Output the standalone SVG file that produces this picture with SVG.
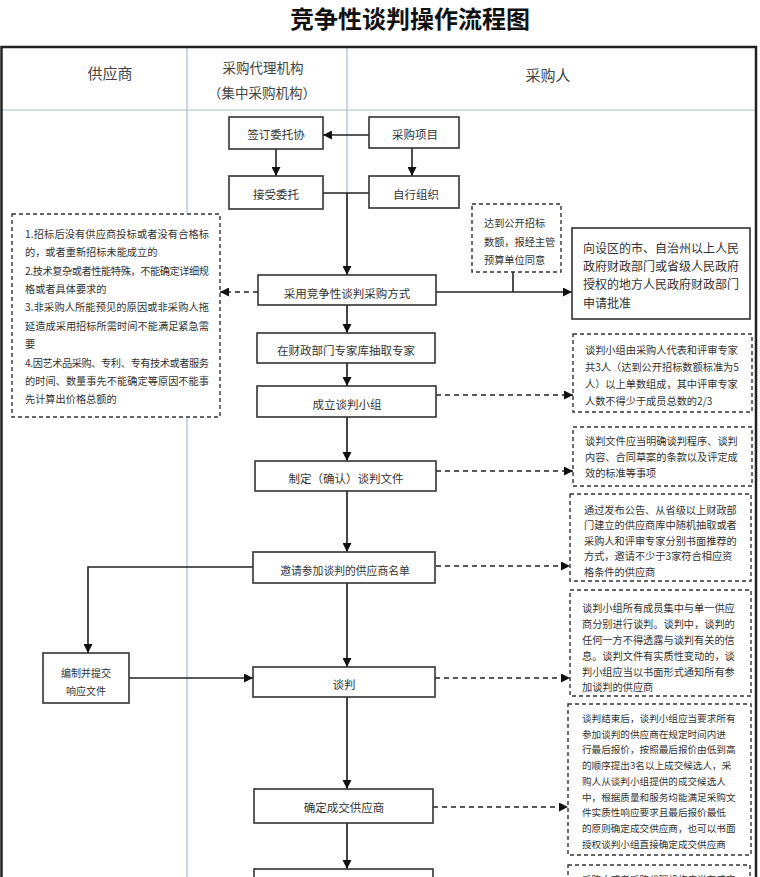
<svg xmlns="http://www.w3.org/2000/svg" width="760" height="877" viewBox="0 0 760 877">
<style>
text{font-family:"Noto Sans CJK SC","Noto Sans",sans-serif;fill:#333;}
.title{font-size:24px;font-weight:bold;fill:#111;}
.lane{font-size:15px;fill:#444;}
.lane2{font-size:13.5px;fill:#444;}
.box{fill:#fff;stroke:#333;stroke-width:1.6;}
.dbox{fill:#fff;stroke:#333;stroke-width:1.4;stroke-dasharray:4 3;}
.bt{font-size:11.5px;text-anchor:middle;dominant-baseline:central;}
.nt{font-size:10.2px;dominant-baseline:central;}
.mt{font-size:12px;dominant-baseline:central;}
.ln{fill:none;stroke:#222;stroke-width:1.6;}
.dl{fill:none;stroke:#222;stroke-width:1.6;stroke-dasharray:5 4;}
.lanel{stroke:#a9bdd0;stroke-width:1.2;fill:none;}
</style>
<defs>
<marker id="ah" viewBox="0 0 10 10" markerWidth="9" markerHeight="9" refX="10" refY="5" orient="auto" markerUnits="userSpaceOnUse">
<path d="M0,0 L10,5 L0,10 z" fill="#111"/>
</marker>
</defs>
<rect width="760" height="877" fill="#fff"/>
<text class="title" x="410" y="28" text-anchor="middle">竞争性谈判操作流程图</text>

<g id="frame">
<line class="lanel" x1="0" y1="110" x2="756" y2="110"/>
<line class="lanel" x1="187" y1="47" x2="187" y2="877"/>
<line class="lanel" x1="347" y1="47" x2="347" y2="877"/>
<path d="M1.5,877 L1.5,47 L756,47 L756,877" fill="none" stroke="#222" stroke-width="2.5"/>
<text class="lane" x="110" y="79" text-anchor="middle">供应商</text>
<text class="lane2" x="263" y="73" text-anchor="middle">采购代理机构</text>
<text class="lane2" x="262" y="98" text-anchor="middle">（集中采购机构）</text>
<text class="lane" x="548" y="81" text-anchor="middle">采购人</text>
</g>

<g id="connectors">
<line class="ln" x1="369" y1="135" x2="323" y2="135" marker-end="url(#ah)"/>
<line class="ln" x1="276" y1="149" x2="276" y2="176" marker-end="url(#ah)"/>
<line class="ln" x1="412" y1="148" x2="412" y2="176" marker-end="url(#ah)"/>
<line class="ln" x1="323" y1="193" x2="369" y2="193"/>
<line class="ln" x1="347" y1="193" x2="347" y2="275" marker-end="url(#ah)"/>
<line class="dl" x1="258" y1="292" x2="220" y2="292" marker-end="url(#ah)"/>
<line class="ln" x1="436" y1="292" x2="572" y2="292" marker-end="url(#ah)"/>
<line class="ln" x1="513" y1="272" x2="513" y2="292"/>
<line class="ln" x1="347" y1="305" x2="347" y2="333" marker-end="url(#ah)"/>
<line class="ln" x1="347" y1="363" x2="347" y2="386" marker-end="url(#ah)"/>
<line class="ln" x1="347" y1="417" x2="347" y2="461" marker-end="url(#ah)"/>
<line class="ln" x1="347" y1="491" x2="347" y2="552" marker-end="url(#ah)"/>
<line class="ln" x1="347" y1="583" x2="347" y2="667" marker-end="url(#ah)"/>
<line class="ln" x1="347" y1="697" x2="347" y2="789" marker-end="url(#ah)"/>
<line class="ln" x1="347" y1="823" x2="347" y2="869" marker-end="url(#ah)"/>
<polyline class="ln" points="253,567 88,567 88,653" marker-end="url(#ah)"/>
<line class="ln" x1="129" y1="678" x2="253" y2="678" marker-end="url(#ah)"/>
<line class="dl" x1="436" y1="395" x2="573" y2="395" marker-end="url(#ah)"/>
<line class="dl" x1="436" y1="471" x2="573" y2="471" marker-end="url(#ah)"/>
<line class="dl" x1="436" y1="566" x2="570" y2="566" marker-end="url(#ah)"/>
<line class="dl" x1="435" y1="678" x2="570" y2="678" marker-end="url(#ah)"/>
<line class="dl" x1="433" y1="807" x2="568" y2="807" marker-end="url(#ah)"/>
</g>

<g id="n-qianding"><rect class="box" x="229" y="117" width="94" height="32"/><text class="bt" x="276" y="134">签订委托协</text></g>
<g id="n-xiangmu"><rect class="box" x="369" y="117" width="90" height="31"/><text class="bt" x="415" y="134">采购项目</text></g>
<g id="n-jieshou"><rect class="box" x="229" y="176" width="94" height="33"/><text class="bt" x="276" y="194">接受委托</text></g>
<g id="n-zixing"><rect class="box" x="369" y="176" width="90" height="32"/><text class="bt" x="416" y="194">自行组织</text></g>

<g id="n-conditions">
<rect class="dbox" x="12" y="214" width="208" height="203"/>
<text class="nt" x="25" y="233" textLength="184" lengthAdjust="spacing">1.招标后没有供应商投标或者没有合格标</text>
<text class="nt" x="25" y="251">的，或者重新招标未能成立的</text>
<text class="nt" x="25" y="270" textLength="184" lengthAdjust="spacing">2.技术复杂或者性能特殊，不能确定详细规</text>
<text class="nt" x="25" y="288">格或者具体要求的</text>
<text class="nt" x="25" y="306" textLength="184" lengthAdjust="spacing">3.非采购人所能预见的原因或非采购人拖</text>
<text class="nt" x="25" y="325" textLength="184" lengthAdjust="spacing">延造成采用招标所需时间不能满足紧急需</text>
<text class="nt" x="25" y="343">要</text>
<text class="nt" x="25" y="362" textLength="184" lengthAdjust="spacing">4.因艺术品采购、专利、专有技术或者服务</text>
<text class="nt" x="25" y="380" textLength="184" lengthAdjust="spacing">的时间、数量事先不能确定等原因不能事</text>
<text class="nt" x="25" y="398">先计算出价格总额的</text>
</g>

<g id="n-daodao">
<rect class="dbox" x="472" y="204" width="89" height="68"/>
<text class="nt" x="484" y="222">达到公开招标</text>
<text class="nt" x="484" y="241">数额，报经主管</text>
<text class="nt" x="484" y="259">预算单位同意</text>
</g>

<g id="n-shenpi">
<rect class="box" x="572" y="228" width="178" height="91"/>
<text class="mt" x="583" y="247">向设区的市、自治州以上人民</text>
<text class="mt" x="583" y="265">政府财政部门或省级人民政府</text>
<text class="mt" x="583" y="283">授权的地方人民政府财政部门</text>
<text class="mt" x="583" y="302">申请批准</text>
</g>

<g id="n-caiyong"><rect class="box" x="258" y="275" width="178" height="30"/><text class="bt" x="347" y="293">采用竞争性谈判采购方式</text></g>
<g id="n-chouqu"><rect class="box" x="257" y="333" width="178" height="30"/><text class="bt" x="346" y="350">在财政部门专家库抽取专家</text></g>
<g id="n-chengli"><rect class="box" x="257" y="386" width="179" height="31"/><text class="bt" x="347" y="404">成立谈判小组</text></g>
<g id="n-zhiding"><rect class="box" x="255" y="461" width="181" height="30"/><text class="bt" x="346" y="478">制定（确认）谈判文件</text></g>
<g id="n-yaoqing"><rect class="box" x="253" y="552" width="182" height="31"/><text class="bt" x="345" y="570" style="font-size:10.8px">邀请参加谈判的供应商名单</text></g>
<g id="n-bianzhi"><rect class="box" x="43" y="653" width="86" height="50"/><text class="bt" x="86" y="672" style="font-size:10px">编制并提交</text><text class="bt" x="86" y="690" style="font-size:10px">响应文件</text></g>
<g id="n-tanpan"><rect class="box" x="253" y="667" width="182" height="30"/><text class="bt" x="344" y="684">谈判</text></g>
<g id="n-queding"><rect class="box" x="254" y="789" width="179" height="34"/><text class="bt" x="344" y="807">确定成交供应商</text></g>
<g id="n-next"><rect class="box" x="254" y="869" width="179" height="30"/></g>

<g id="n-zucheng">
<rect class="dbox" x="573" y="334" width="179" height="78"/>
<text class="nt" x="585" y="349">谈判小组由采购人代表和评审专家</text>
<text class="nt" x="585" y="366">共3人（达到公开招标数额标准为5</text>
<text class="nt" x="585" y="383">人）以上单数组成，其中评审专家</text>
<text class="nt" x="585" y="400">人数不得少于成员总数的2/3</text>
</g>

<g id="n-wenjian">
<rect class="dbox" x="573" y="427" width="179" height="59"/>
<text class="nt" x="585" y="440">谈判文件应当明确谈判程序、谈判</text>
<text class="nt" x="585" y="456">内容、合同草案的条款以及评定成</text>
<text class="nt" x="585" y="472">效的标准等事项</text>
</g>

<g id="n-gonggao">
<rect class="dbox" x="570" y="494" width="181" height="87"/>
<text class="nt" x="584" y="509">通过发布公告、从省级以上财政部</text>
<text class="nt" x="584" y="524.5">门建立的供应商库中随机抽取或者</text>
<text class="nt" x="584" y="540">采购人和评审专家分别书面推荐的</text>
<text class="nt" x="584" y="555.5">方式，邀请不少于3家符合相应资</text>
<text class="nt" x="584" y="571">格条件的供应商</text>
</g>

<g id="n-tanpanshuoming">
<rect class="dbox" x="570" y="590" width="181" height="106"/>
<text class="nt" x="582" y="607">谈判小组所有成员集中与单一供应</text>
<text class="nt" x="582" y="623">商分别进行谈判。谈判中，谈判的</text>
<text class="nt" x="582" y="639">任何一方不得透露与谈判有关的信</text>
<text class="nt" x="582" y="655">息。谈判文件有实质性变动的，谈</text>
<text class="nt" x="582" y="671">判小组应当以书面形式通知所有参</text>
<text class="nt" x="582" y="686">加谈判的供应商</text>
</g>

<g id="n-jieshu">
<rect class="dbox" x="568" y="704" width="183" height="151"/>
<text class="nt" x="582" y="718" style="font-size:9.6px">谈判结束后，谈判小组应当要求所有</text>
<text class="nt" x="582" y="733.7" style="font-size:9.6px">参加谈判的供应商在规定时间内进</text>
<text class="nt" x="582" y="749.4" style="font-size:9.6px">行最后报价，按照最后报价由低到高</text>
<text class="nt" x="582" y="765.1" style="font-size:9.6px">的顺序提出3名以上成交候选人，采</text>
<text class="nt" x="582" y="780.8" style="font-size:9.6px">购人从谈判小组提供的成交候选人</text>
<text class="nt" x="582" y="796.5" style="font-size:9.6px">中，根据质量和服务均能满足采购文</text>
<text class="nt" x="582" y="812.2" style="font-size:9.6px">件实质性响应要求且最后报价最低</text>
<text class="nt" x="582" y="827.9" style="font-size:9.6px">的原则确定成交供应商，也可以书面</text>
<text class="nt" x="582" y="843.6" style="font-size:9.6px">授权谈判小组直接确定成交供应商</text>
</g>

<g id="n-last">
<rect class="dbox" x="568" y="865" width="182" height="40"/>
<text class="nt" x="582" y="879" style="font-size:9.6px">采购人或者采购代理机构应当在成交</text>
</g>
</svg>
